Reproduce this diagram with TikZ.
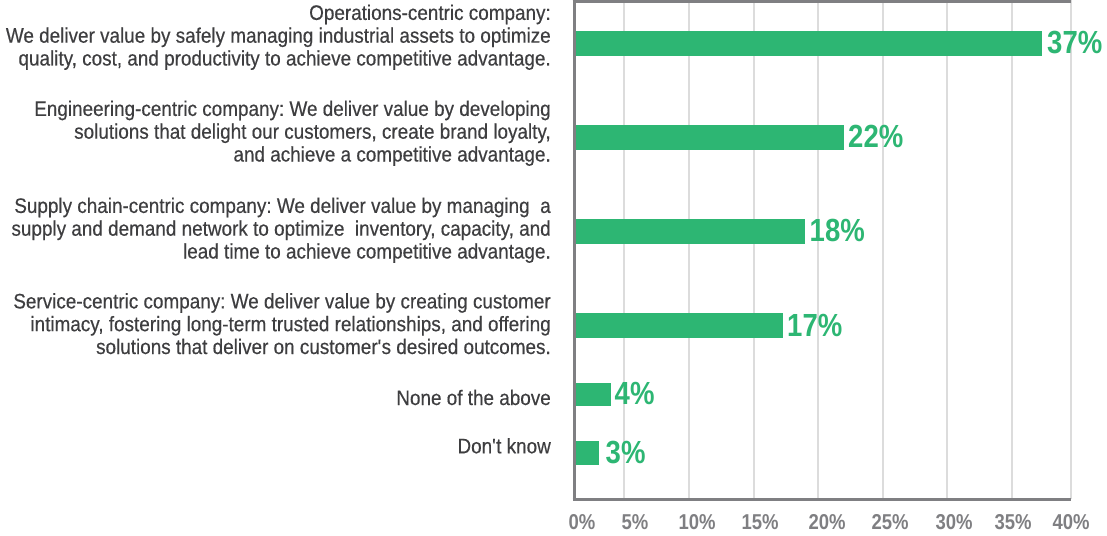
\documentclass[tikz,border=0pt]{standalone}
\usepackage{fontspec}
\setmainfont{Liberation Sans}[FakeStretch=0.93]
\newfontfamily\lblfont{Liberation Sans}[FakeStretch=0.90,FakeBold=0.4]
\newfontfamily\valfont{Liberation Sans}[FakeStretch=0.86]
\definecolor{bargreen}{HTML}{2DB673}
\definecolor{labelgray}{HTML}{3E3E40}
\definecolor{axisgray}{HTML}{7F7F82}
\definecolor{gridgray}{HTML}{DCDCDC}
\frenchspacing
\begin{document}
\begin{tikzpicture}[x=1pt,y=-1pt,
  lbl/.style={anchor=base east, align=right, inner sep=0pt, text=labelgray, font=\lblfont\fontsize{21}{22.8}\selectfont},
  val/.style={anchor=base west, inner sep=0pt, text=bargreen, font=\valfont\bfseries\fontsize{32}{32}\selectfont},
  tick/.style={anchor=base, inner sep=0pt, text=axisgray, font=\valfont\bfseries\fontsize{21.5}{21.5}\selectfont},
  gridline/.style={draw=gridgray, line width=2pt},
  axisline/.style={draw=axisgray, line width=3pt},
  bar/.style={fill=bargreen}]
\useasboundingbox (0,0) rectangle (1107,535);
% grid
\foreach \gx in {624,689,754,818,883,947,1012,1071}
  \draw[gridline] (\gx,0) -- (\gx,499);
% frame / axes
\coordinate (tl) at (574,1.5);
\coordinate (tr) at (1071,1.5);
\coordinate (bl) at (574,499.5);
\coordinate (br) at (1071,499.5);
\draw[axisline] (572.5,1.5) -- (tr);
\draw[axisline] (574,0) -- (574,501);
\draw[axisline] (572.5,499.5) -- (br);
% bars
\fill[bar] (575.5,31) rectangle (1042,56);
\fill[bar] (575.5,125) rectangle (844,150);
\fill[bar] (575.5,219) rectangle (805,243.5);
\fill[bar] (575.5,312.5) rectangle (783,338);
\fill[bar] (575.5,383) rectangle (611,406);
\fill[bar] (575.5,441) rectangle (599,465);
% values
\node[val] (v1) at (1047,53.5) {37\%};
\node[val] (v2) at (848,147.7) {22\%};
\node[val] (v3) at (809.5,241.5) {18\%};
\node[val] (v4) at (787,336.5) {17\%};
\node[val] (v5) at (614.5,404) {4\%};
\node[val] (v6) at (605.5,463) {3\%};
% category labels (anchor = baseline of last line)
\node[lbl] (c1) at (551,65.5) {Operations-centric company:\\We deliver value by safely managing industrial assets to optimize\\quality, cost, and productivity to achieve competitive advantage.};
\node[lbl] (c2) at (551,161.5) {Engineering-centric company: We deliver value by developing\\solutions that delight our customers, create brand loyalty,\\and achieve a competitive advantage.};
\node[lbl] (c3) at (551,258.5) {Supply chain-centric company: We deliver value by managing\ \ a\\supply and demand network to optimize\ \ inventory, capacity, and\\lead time to achieve competitive advantage.};
\node[lbl] (c4) at (551,354) {Service-centric company: We deliver value by creating customer\\intimacy, fostering long-term trusted relationships, and offering\\solutions that deliver on customer\textquotesingle s desired outcomes.};
\node[lbl] (c5) at (551,405) {None of the above};
\node[lbl] (c6) at (551,453.3) {Don\textquotesingle t know};
% ticks
\foreach \tx/\tl in {582/0,635/5,697/10,760/15,827/20,890/25,954/30,1013/35,1071/40}
  \node[tick] (t\tl) at (\tx,529.3) {\tl\%};
\end{tikzpicture}
\end{document}
